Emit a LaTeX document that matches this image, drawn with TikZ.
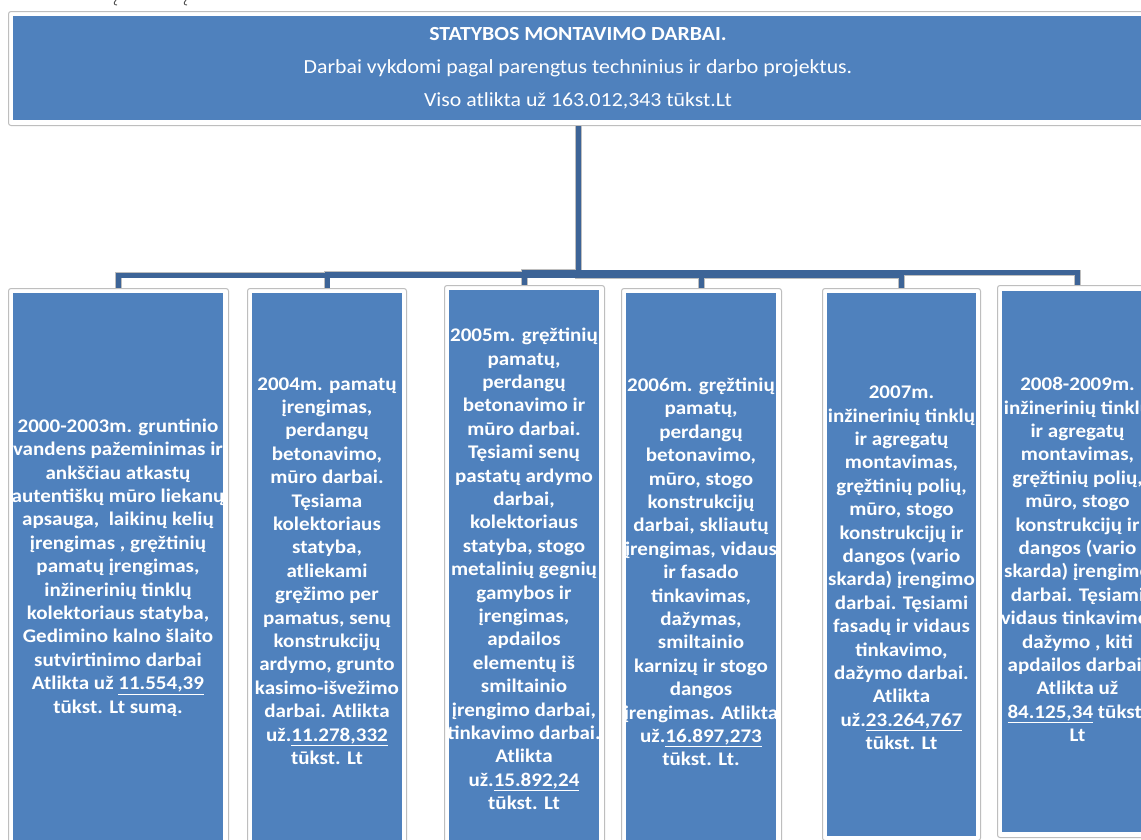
\documentclass[tikz,border=0pt]{standalone}
\usepackage{fontspec}
\setmainfont{Carlito}[FakeStretch=1.09]
\definecolor{boxblue}{RGB}{79,129,189}
\definecolor{connblue}{RGB}{61,100,151}
\definecolor{framegray}{RGB}{190,190,190}
\begin{document}
\begin{tikzpicture}[x=1pt,y=-1pt,
  frame/.style={draw=framegray, line width=1pt, fill=white, rounded corners=2.5pt, inner sep=0pt, anchor=north west},
  inner/.style={fill=boxblue, inner sep=0pt, anchor=north west},
  coltext/.style={text=white, align=center, inner sep=0pt, font=\bfseries\fontsize{19.3}{23.4}\selectfont},
  toptext/.style={text=white, align=center, inner sep=0pt, font=\fontsize{20}{33}\selectfont},
  conn/.style={draw=connblue, line width=5pt},
  connedge/.style={draw=framegray, line width=6.5pt},
  tick/.style={draw=black!70, line width=0.9pt}
]
\fill[white] (0,0) rectangle (1141,839);
\useasboundingbox (0,0) rectangle (1141,839);

% stray glyph tails at the top edge
\draw[tick] (116,0) .. controls (113,3) and (114,5) .. (117,5);
\draw[tick] (186,0) .. controls (183,3) and (184,5) .. (187,5);

% top box
\node[frame, minimum width=1140pt, minimum height=114pt] (top) at (8,11) {};
\node[inner, minimum width=1130pt, minimum height=104pt] (topi) at (13,16) {};
\node[toptext] (toptxt) at (578,68) {{\bfseries STATYBOS MONTAVIMO DARBAI.}\\Darbai vykdomi pagal parengtus techninius ir darbo projektus.\\Viso atlikta už 163.012,343 tūkst.Lt};

% child frames
\node[frame, minimum width=220pt, minimum height=580pt] (b1) at (8,288) {};
\node[frame, minimum width=159pt, minimum height=580pt] (b2) at (247,288) {};
\node[frame, minimum width=160pt, minimum height=580pt] (b3) at (444,285) {};
\node[frame, minimum width=160pt, minimum height=580pt] (b4) at (621,288) {};
\node[frame, minimum width=158pt, minimum height=552pt] (b5) at (822,288) {};
\node[frame, minimum width=160pt, minimum height=552pt] (b6) at (997,285) {};

\node[inner, minimum width=210pt, minimum height=570pt] (i1) at (13,293) {};
\node[inner, minimum width=150pt, minimum height=570pt] (i2) at (252,293) {};
\node[inner, minimum width=150pt, minimum height=570pt] (i3) at (449,290) {};
\node[inner, minimum width=150pt, minimum height=570pt] (i4) at (626,293) {};
\node[inner, minimum width=149pt, minimum height=543pt] (i5) at (827,293) {};
\node[inner, minimum width=151pt, minimum height=541pt] (i6) at (1002,291) {};

% connectors
\foreach \b/\y in {b1/275,b2/274,b4/275,b5/275.5,b3/272.5,b6/272.8}{
  \draw[connedge] (top.south) |- (\b.north |- 0,\y) -- (\b.north);
}
\foreach \b/\y in {b1/275,b2/274,b4/275,b5/275.5,b3/272.5,b6/272.8}{
  \draw[conn] (top.south) |- (\b.north |- 0,\y) -- (\b.north);
}

% texts
\begin{scope}
\clip (i1.north west) rectangle (i1.south east);
\node[coltext] (t1) at (118,567.5) {2000-2003m. gruntinio\\vandens pažeminimas ir\\ankščiau atkastų\\autentiškų mūro liekanų\\apsauga,~ laikinų kelių\\įrengimas , gręžtinių\\pamatų įrengimas,\\inžinerinių tinklų\\kolektoriaus statyba,\\Gedimino kalno šlaito\\sutvirtinimo darbai\\Atlikta už \underline{11.554,39}\\tūkst. Lt sumą.};
\end{scope}
\begin{scope}
\clip (i2.north west) rectangle (i2.south east);
\node[coltext] (t2) at (327,571) {2004m. pamatų\\įrengimas,\\perdangų\\betonavimo,\\mūro darbai.\\Tęsiama\\kolektoriaus\\statyba,\\atliekami\\gręžimo per\\pamatus, senų\\konstrukcijų\\ardymo, grunto\\kasimo-išvežimo\\darbai. Atlikta\\už.\underline{11.278,332}\\tūkst. Lt};
\end{scope}
\begin{scope}
\clip (i3.north west) rectangle (i3.south east);
\node[coltext] (t3) at (524,569) {2005m. gręžtinių\\pamatų,\\perdangų\\betonavimo ir\\mūro darbai.\\Tęsiami senų\\pastatų ardymo\\darbai,\\kolektoriaus\\statyba, stogo\\metalinių gegnių\\gamybos ir\\įrengimas,\\apdailos\\elementų iš\\smiltainio\\įrengimo darbai,\\tinkavimo darbai.\\Atlikta\\už.\underline{15.892,24}\\tūkst. Lt};
\end{scope}
\begin{scope}
\clip (i4.north west) rectangle (i4.south east);
\node[coltext] (t4) at (701,572) {2006m. gręžtinių\\pamatų,\\perdangų\\betonavimo,\\mūro, stogo\\konstrukcijų\\darbai, skliautų\\įrengimas, vidaus\\ir fasado\\tinkavimas,\\dažymas,\\smiltainio\\karnizų ir stogo\\dangos\\įrengimas. Atlikta\\už.\underline{16.897,273}\\tūkst. Lt.};
\end{scope}
\begin{scope}
\clip (i5.north west) rectangle (i5.south east);
\node[coltext] (t5) at (901.5,568) {2007m.\\inžinerinių tinklų\\ir agregatų\\montavimas,\\gręžtinių polių,\\mūro, stogo\\konstrukcijų ir\\dangos (vario\\skarda) įrengimo\\darbai. Tęsiami\\fasadų ir vidaus\\tinkavimo,\\dažymo darbai.\\Atlikta\\už.\underline{23.264,767}\\tūkst. Lt};
\end{scope}
\begin{scope}
\clip (i6.north west) rectangle (i6.south east);
\node[coltext] (t6) at (1077.5,559.5) {2008-2009m.\\inžinerinių tinklų\\ir agregatų\\montavimas,\\gręžtinių polių,\\mūro, stogo\\konstrukcijų ir\\dangos (vario\\skarda) įrengimo\\darbai. Tęsiami\\vidaus tinkavimo,\\dažymo , kiti\\apdailos darbai.\\Atlikta už\\\underline{84.125,34} tūkst.\\Lt};
\end{scope}
\end{tikzpicture}
\end{document}
